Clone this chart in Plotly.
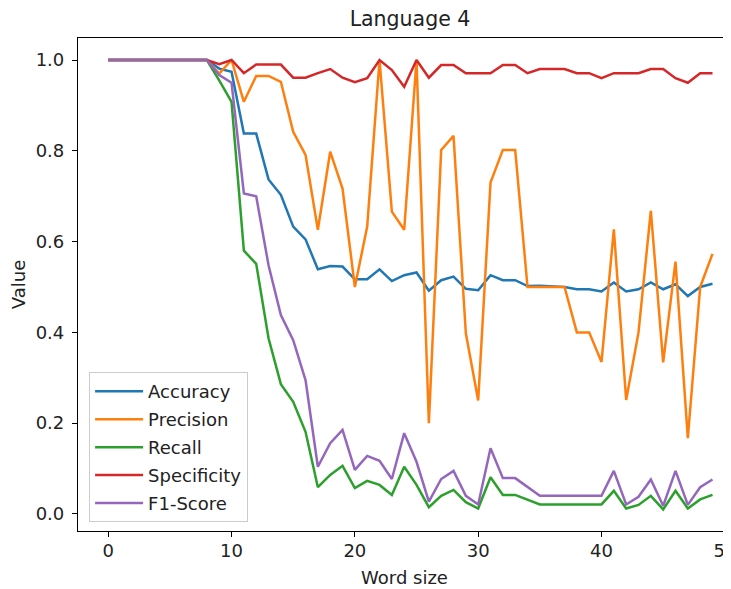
import plotly.graph_objects as go

word_size = list(range(50))
accuracy = [1.0]*9 + [0.981, 0.974, 0.838, 0.838, 0.737, 0.703, 0.633, 0.605, 0.539, 0.546, 0.545,
            0.517, 0.517, 0.539, 0.513, 0.526, 0.532, 0.492, 0.515, 0.523, 0.496,
            0.493, 0.526, 0.515, 0.515, 0.502, 0.503, 0.502, 0.500, 0.495, 0.495,
            0.490, 0.510, 0.490, 0.495, 0.510, 0.495, 0.506, 0.480, 0.500, 0.507]
precision = [1.0]*9 + [0.970, 1.0, 0.908, 0.965, 0.965, 0.952, 0.842, 0.791, 0.626, 0.798, 0.717,
             0.500, 0.633, 1.0, 0.666, 0.626, 1.0, 0.200, 0.802, 0.833, 0.398,
             0.250, 0.730, 0.802, 0.802, 0.500, 0.500, 0.500, 0.500, 0.400, 0.400,
             0.335, 0.627, 0.251, 0.400, 0.668, 0.334, 0.556, 0.167, 0.500, 0.573]
recall = [1.0]*9 + [0.955, 0.908, 0.580, 0.551, 0.387, 0.286, 0.247, 0.181, 0.059, 0.086, 0.106,
          0.057, 0.073, 0.064, 0.042, 0.104, 0.064, 0.015, 0.040, 0.053, 0.026,
          0.012, 0.081, 0.042, 0.042, 0.032, 0.021, 0.021, 0.021, 0.021, 0.021,
          0.021, 0.051, 0.012, 0.020, 0.040, 0.010, 0.051, 0.012, 0.032, 0.042]
specificity = [1.0]*9 + [0.991, 1.0, 0.971, 0.990, 0.990, 0.990, 0.961, 0.961, 0.971, 0.980, 0.961,
               0.951, 0.960, 1.0, 0.978, 0.941, 1.0, 0.961, 0.989, 0.989, 0.971,
               0.971, 0.971, 0.989, 0.989, 0.971, 0.980, 0.980, 0.980, 0.971, 0.971,
               0.960, 0.971, 0.971, 0.971, 0.980, 0.980, 0.960, 0.950, 0.971, 0.971]
f1_score = [1.0]*9 + [0.967, 0.950, 0.706, 0.700, 0.548, 0.438, 0.383, 0.295, 0.104, 0.156, 0.185,
            0.097, 0.128, 0.117, 0.077, 0.178, 0.115, 0.027, 0.077, 0.095, 0.040,
            0.021, 0.145, 0.079, 0.079, 0.059, 0.040, 0.040, 0.040, 0.040, 0.040,
            0.040, 0.095, 0.021, 0.038, 0.076, 0.018, 0.095, 0.020, 0.059, 0.076]

series = [("Accuracy", accuracy, "#1f77b4"),
          ("Precision", precision, "#ff7f0e"),
          ("Recall", recall, "#2ca02c"),
          ("Specificity", specificity, "#d62728"),
          ("F1-Score", f1_score, "#9467bd")]

FONT = "DejaVu Sans"
FS = 18
W, H = 723, 581   # page body has an 8px margin
fig = go.Figure()
for name, vals, col in series:
    fig.add_trace(go.Scatter(x=word_size, y=vals, mode="lines", name=name,
                             legendgroup=name,
                             line=dict(color=col, width=2.5)))

fig.update_layout(
    width=W, height=H,
    margin=dict(l=70, r=0, t=30, b=58, autoexpand=False),
    paper_bgcolor="white", plot_bgcolor="white",
    font=dict(family=FONT, size=FS, color="#222"),
    title=dict(text="Language 4", x=402/W, xref="container", xanchor="center",
               y=1 - 11/H, yref="container", yanchor="middle",
               font=dict(family=FONT, size=20.5, color="#222")),
    legend=dict(x=0.017, y=0.018, xanchor="left", yanchor="bottom",
                bgcolor="rgba(255,255,255,0.8)", bordercolor="#cccccc", borderwidth=1,
                itemwidth=48,
                font=dict(family=FONT, size=FS, color="#222"), tracegroupgap=1.5),
    showlegend=True,
)
fig.update_xaxes(range=[-2.45, 50.5], tickvals=[0, 10, 20, 30, 40, 50],
                 showgrid=False, zeroline=False, showline=True, linecolor="black",
                 linewidth=1.2, mirror=True, ticks="outside", ticklen=5, tickcolor="black",
                 ticklabelstandoff=-2, ticklabeloverflow="allow",
                 title=dict(text="Word size", standoff=11, font=dict(family=FONT, size=FS)))
fig.update_yaxes(range=[-0.0375, 1.0485], tickvals=[0, 0.2, 0.4, 0.6, 0.8, 1.0],
                 tickformat=".1f",
                 showgrid=False, zeroline=False, showline=True, linecolor="black",
                 linewidth=1.2, ticks="outside", ticklen=5, tickcolor="black",
                 ticklabelstandoff=4,
                 title=dict(text="Value", standoff=8, font=dict(family=FONT, size=FS)))

fig.write_html("out.html")
